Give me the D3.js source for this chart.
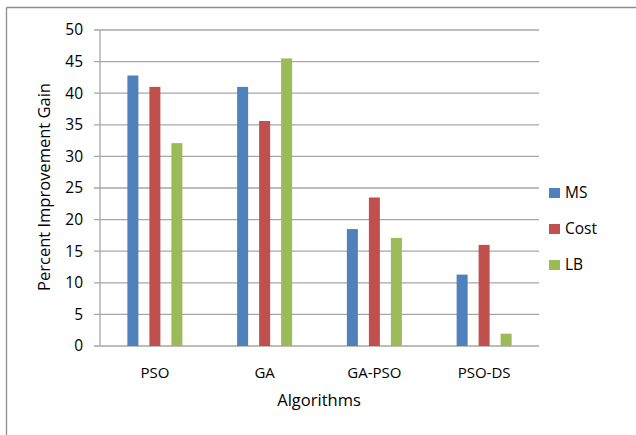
<!DOCTYPE html>
<html><head><meta charset="utf-8">
<script src="https://cdn.jsdelivr.net/npm/d3@7"></script>
<style>body{margin:0;background:#fff}svg{display:block}text{font-family:"Open Sans","Liberation Sans",sans-serif;fill:#000}</style>
</head><body><svg id="c" width="636" height="435"></svg>
<script>
const categories = ["PSO", "GA", "GA-PSO", "PSO-DS"];
const seriesNames = ["MS", "Cost", "LB"];
const msValues = [42.8, 41.0, 18.5, 11.3];
const costValues = [41.0, 35.6, 23.5, 16.0];
const lbValues = [32.1, 45.5, 17.1, 1.95];
const yTicks = [0, 5, 10, 15, 20, 25, 30, 35, 40, 45, 50];
const colors = ["#4F81BD", "#C0504D", "#9BBB59"];

const series = [msValues, costValues, lbValues];
const svg = d3.select("#c");
// outer frame (only top and left edges visible)
svg.append("line").attr("x1", 6.5).attr("x2", 636).attr("y1", 7.5).attr("y2", 7.5)
  .attr("stroke", "#8c8c8c").attr("stroke-width", 1.3);
svg.append("line").attr("x1", 6.5).attr("x2", 6.5).attr("y1", 7.5).attr("y2", 435)
  .attr("stroke", "#8c8c8c").attr("stroke-width", 1.3);

const L = 100, R = 539, T = 30, B = 346;
const x = d3.scaleBand().domain(categories).range([L, R]);
const y = d3.scaleLinear().domain([0, 50]).range([B, T]);

// gridlines
svg.append("g").selectAll("line").data(yTicks).join("line")
  .attr("x1", L - 6).attr("x2", R).attr("y1", d => y(d)).attr("y2", d => y(d))
  .attr("stroke", "#a6a6a6").attr("stroke-width", 1.3);
svg.append("line").attr("x1", L).attr("x2", L).attr("y1", T).attr("y2", B)
  .attr("stroke", "#a6a6a6").attr("stroke-width", 1.3);

const yAxis = d3.axisLeft(y).tickValues(yTicks).tickSize(0).tickPadding(17);
const gy = svg.append("g").attr("transform", `translate(${L},0)`).call(yAxis);
gy.select(".domain").remove();
gy.selectAll("text").style("font-size", "15.5px").attr("fill", "#000");

const xAxis = d3.axisBottom(x).tickSize(0).tickPadding(21);
const gx = svg.append("g").attr("transform", `translate(0,${B})`).call(xAxis);
gx.select(".domain").remove();
gx.selectAll("text").style("font-size", "15px").attr("fill", "#000");

// bars
const barW = 11;
const step = 22;
seriesNames.forEach((s, i) => {
  svg.append("g").selectAll("rect").data(series[i]).join("rect")
    .attr("x", (d, j) => x(categories[j]) + x.bandwidth() / 2 + (i - 1) * step - barW / 2)
    .attr("width", barW)
    .attr("y", d => y(d))
    .attr("height", d => y(0) - y(d))
    .attr("fill", colors[i]);
});

// axis titles
svg.append("text").attr("x", 319).attr("y", 406).attr("text-anchor", "middle")
  .style("font-size", "16.5px").text("Algorithms");
svg.append("text").attr("transform", "translate(50,187) rotate(-90)").attr("text-anchor", "middle")
  .style("font-size", "16.5px").text("Percent Improvement Gain");

// legend
const lg = svg.append("g");
seriesNames.forEach((s, i) => {
  const base = 198 + i * 36;
  lg.append("rect").attr("x", 549).attr("y", base - 10).attr("width", 11).attr("height", 10).attr("fill", colors[i]);
  lg.append("text").attr("x", 565).attr("y", base).style("font-size", "15.5px").text(s);
});
</script></body></html>
